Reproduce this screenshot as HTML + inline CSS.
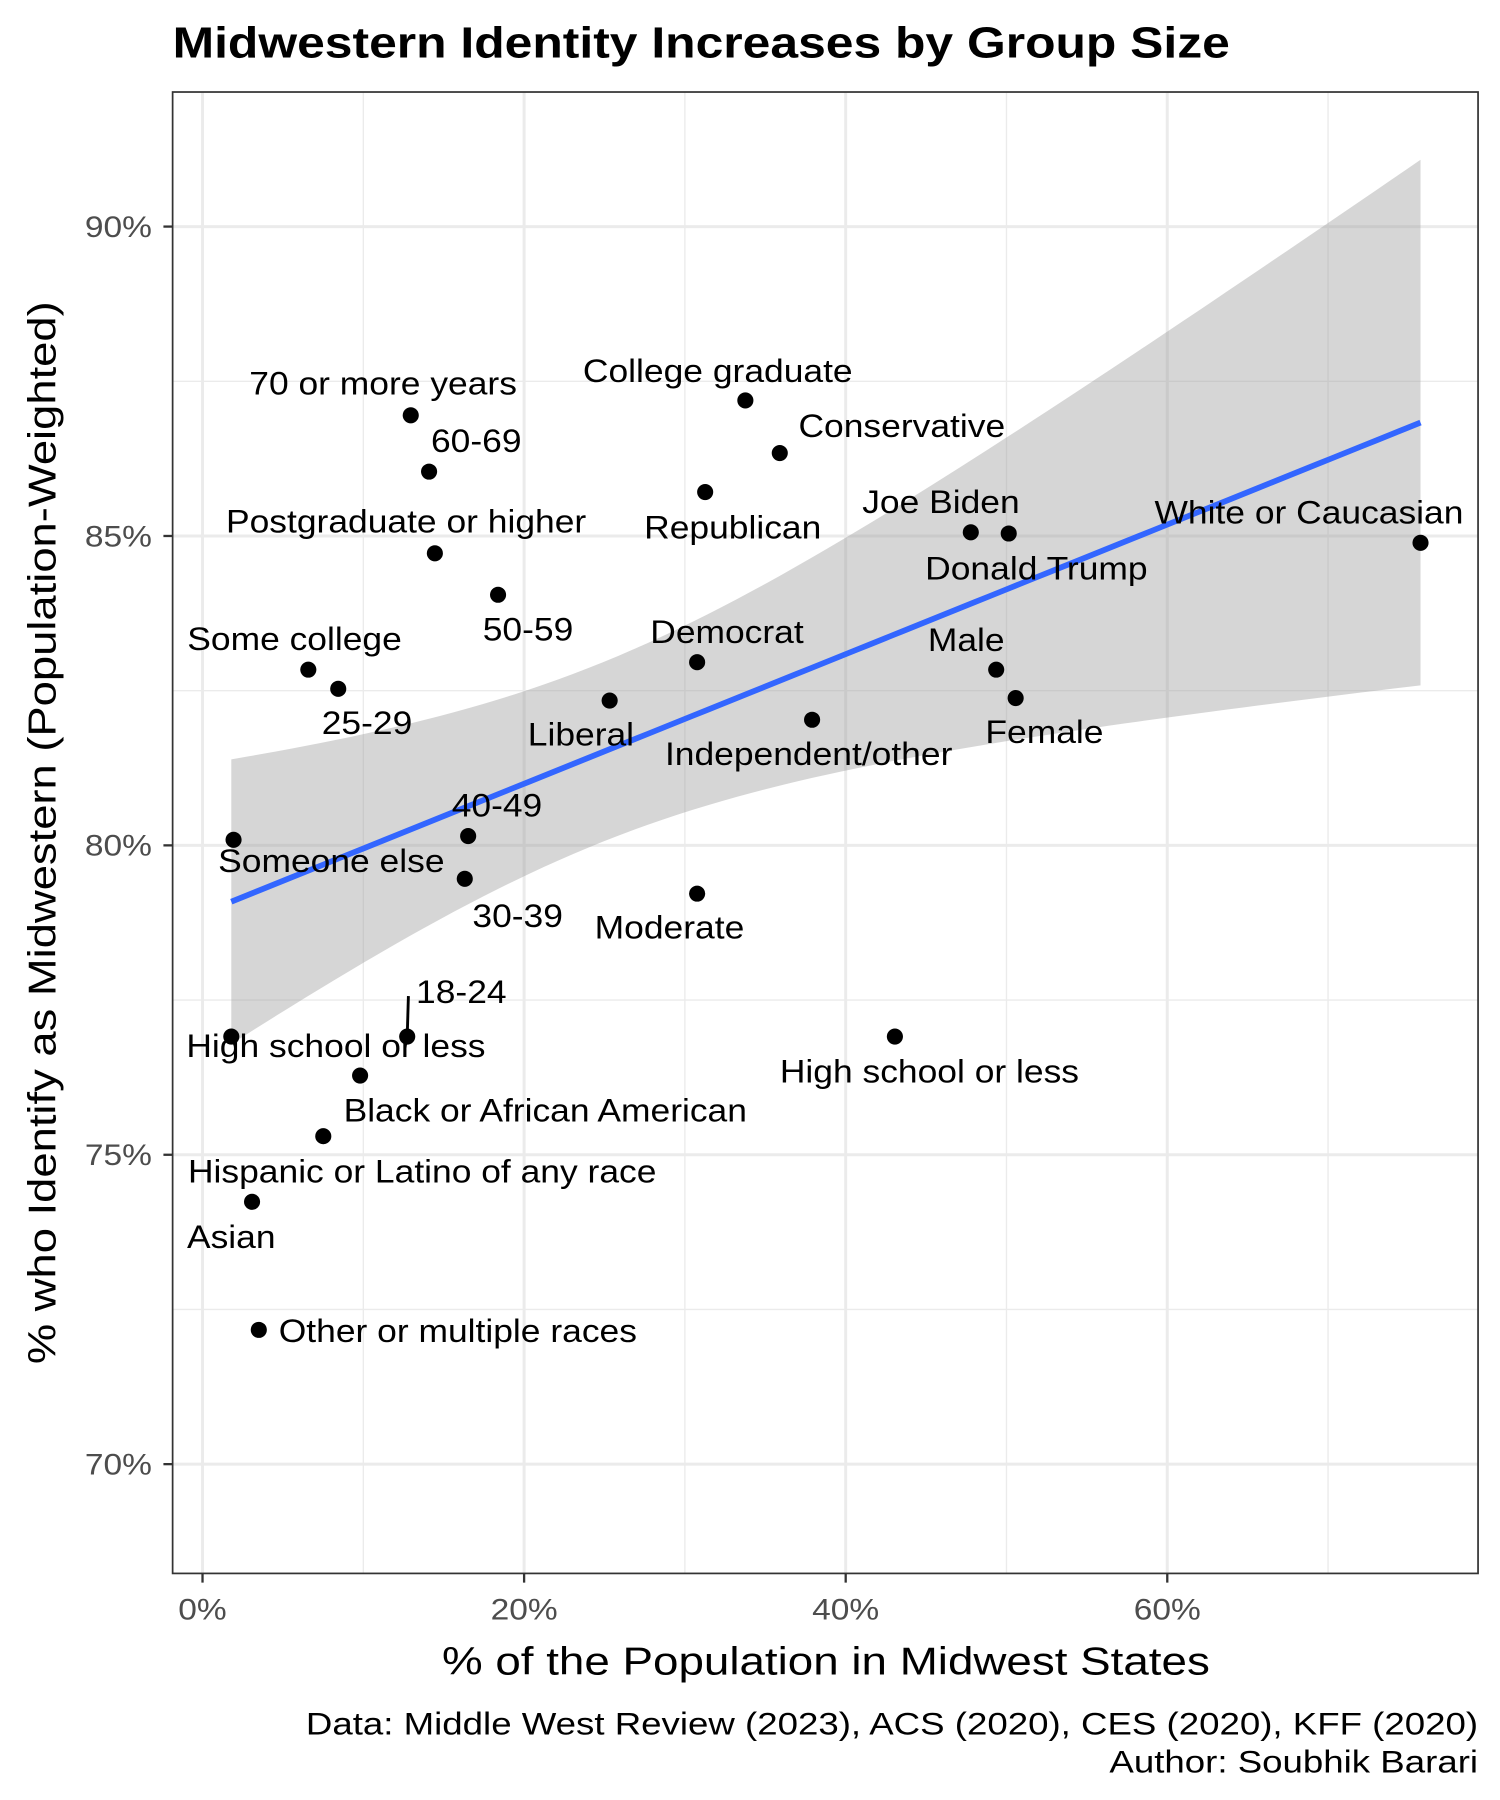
<!DOCTYPE html>
<html><head><meta charset="utf-8"><style>
html,body{margin:0;padding:0;background:#fff;}
svg{display:block;font-family:"Liberation Sans",Arial,sans-serif;}
</style></head><body>
<svg id="chart" width="1500" height="1800" viewBox="0 0 1304 1565">
<text class="st" data-f="1.14" x="150" y="50" font-size="38" font-weight="bold" fill="#000">Midwestern Identity Increases by Group Size</text>
<g id="grid"></g>
<g id="ribbon"></g>
<g id="marks"></g>
<g id="labels"></g>
<rect x="150" y="80" width="1135" height="1288" fill="none" stroke="#333" stroke-width="1.5"/>
<g id="axes"></g>
<text class="st" data-f="1.16" transform="translate(48,724) rotate(-90)" text-anchor="middle" font-size="34" fill="#000">% who Identify as Midwestern (Population-Weighted)</text>
<text class="st" data-f="1.17" x="718" y="1456" text-anchor="middle" font-size="34" fill="#000">% of the Population in Midwest States</text>
<text class="st" data-f="1.18" x="1285" y="1508" text-anchor="end" font-size="27" fill="#000">Data: Middle West Review (2023), ACS (2020), CES (2020), KFF (2020)</text>
<text class="st" data-f="1.18" x="1285" y="1541" text-anchor="end" font-size="27" fill="#000">Author: Soubhik Barari</text>
</svg>
<script>
const names = ["70 or more years","60-69","Postgraduate or higher","50-59","Some college","25-29","College graduate","Conservative","Republican","Joe Biden","Donald Trump","White or Caucasian","Democrat","Liberal","Independent/other","Male","Female","40-49","Someone else","30-39","Moderate","18-24","High school or less","High school or less (2)","Black or African American","Hispanic or Latino of any race","Asian","Other or multiple races"];
const popShare = [12.95,14.09,14.45,18.38,6.58,8.44,33.76,35.9,31.26,47.78,50.14,75.75,30.76,25.32,37.91,49.36,50.57,16.52,1.93,16.31,30.76,12.73,1.79,43.06,9.8,7.51,3.08,3.5];
const midwestPct = [86.95,86.04,84.72,84.05,82.84,82.53,87.19,86.34,85.71,85.06,85.04,84.89,82.96,82.34,82.03,82.84,82.38,80.15,80.09,79.46,79.22,76.91,76.91,76.91,76.28,75.3,74.24,72.17];
const xTicks = [0,20,40,60];
const xMinor = [10,30,50,70];
const yTicks = [70,75,80,85,90];
const yMinor = [72.5,77.5,82.5,87.5];

const NS="http://www.w3.org/2000/svg";
const X = v => 176 + v*13.98;
const Y = v => 735 - (v-80)*53.8;
function el(tag, attrs, parent){const e=document.createElementNS(NS,tag);for(const k in attrs)e.setAttribute(k,attrs[k]);document.getElementById(parent).appendChild(e);return e;}

xMinor.forEach(v=>{const l=el('line',{x1:X(v),x2:X(v),y1:80,y2:1368,stroke:'#ebebeb','stroke-width':1.2},'grid');

});
yMinor.forEach(v=>{const l=el('line',{x1:150,x2:1285,y1:Y(v),y2:Y(v),stroke:'#ebebeb','stroke-width':1.2},'grid');

});
xTicks.forEach(v=>{const l=el('line',{x1:X(v),x2:X(v),y1:80,y2:1368,stroke:'#ebebeb','stroke-width':2.6},'grid');


const t=el('line',{x1:X(v),x2:X(v),y1:1368,y2:1376,stroke:'#333','stroke-width':2},'axes');


const tx=el('text',{x:X(v),y:1408,'text-anchor':'middle','font-size':26,fill:'#4d4d4d',class:'st','data-f':1.12},'axes');tx.textContent=v+'%';

});
yTicks.forEach(v=>{const l=el('line',{x1:150,x2:1285,y1:Y(v),y2:Y(v),stroke:'#ebebeb','stroke-width':2.6},'grid');


const t=el('line',{x1:142,x2:150,y1:Y(v),y2:Y(v),stroke:'#333','stroke-width':2},'axes');


const tx=el('text',{x:132,y:Y(v)+9,'text-anchor':'end','font-size':26,fill:'#4d4d4d',class:'st','data-f':1.12},'axes');tx.textContent=v+'%';

});

const n=popShare.length;
const xb=popShare.reduce((a,b)=>a+b,0)/n, yb=midwestPct.reduce((a,b)=>a+b,0)/n;
let sxx=0,sxy=0;for(let i=0;i<n;i++){sxx+=(popShare[i]-xb)**2;sxy+=(popShare[i]-xb)*(midwestPct[i]-yb);}
const b1=sxy/sxx,b0=yb-b1*xb;
let sse=0;for(let i=0;i<n;i++)sse+=(midwestPct[i]-b0-b1*popShare[i])**2;
const s=Math.sqrt(sse/(n-2)), tq=2.056;
const xmin=Math.min(...popShare),xmax=Math.max(...popShare);
let up=[],lo=[],ln=[];
for(let k=0;k<=80;k++){const x=xmin+(xmax-xmin)*k/80;const f=b0+b1*x;const h=tq*s*Math.sqrt(1/n+(x-xb)**2/sxx);
up.push(X(x)+','+Y(f+h));lo.push(X(x)+','+Y(f-h));ln.push(X(x)+','+Y(f));}
const rib=el('polygon',{points:up.concat(lo.reverse()).join(' '),fill:'#999',opacity:0.4},'ribbon');


const fit=el('polyline',{points:ln.join(' '),fill:'none',stroke:'#3366ff','stroke-width':5},'ribbon');



for(let i=0;i<n;i++){const c=el('circle',{cx:X(popShare[i]),cy:Y(midwestPct[i]),r:7,fill:'#000'},'marks');

}

const labelText=["70 or more years","60-69","Postgraduate or higher","50-59","Some college","25-29","College graduate","Conservative","Republican","Joe Biden","Donald Trump","White or Caucasian","Democrat","Liberal","Independent/other","Male","Female","40-49","Someone else","30-39","Moderate","18-24","High school or less","High school or less","Black or African American","Hispanic or Latino of any race","Asian","Other or multiple races"];
const lx=[333,414,353,459,256,319,624,784,637,818,901,1138,632,505,703,840,908,432,288,450,582,401,292,808,474,367,201,398];
const ly=[343,393,463,557,565,638,332,380,468,446,504,455,559,648,665,566,646,710,758,806,816,872,919,941,975,1028,1085,1167];
for(let i=0;i<n;i++){const t=el('text',{x:lx[i],y:ly[i],'text-anchor':'middle','font-size':28,fill:'#000',class:'st','data-f':1.1},'labels');t.textContent=labelText[i];

}
const seg=el('line',{x1:355,y1:866,x2:X(popShare[21]),y2:Y(midwestPct[21]),stroke:'#000','stroke-width':2.5},'labels');



document.querySelectorAll('text.st').forEach(t=>{const f=parseFloat(t.getAttribute('data-f'));const w=t.getComputedTextLength();
t.setAttribute('textLength',(w*f).toFixed(1));t.setAttribute('lengthAdjust','spacingAndGlyphs');});
</script>
</body></html>
